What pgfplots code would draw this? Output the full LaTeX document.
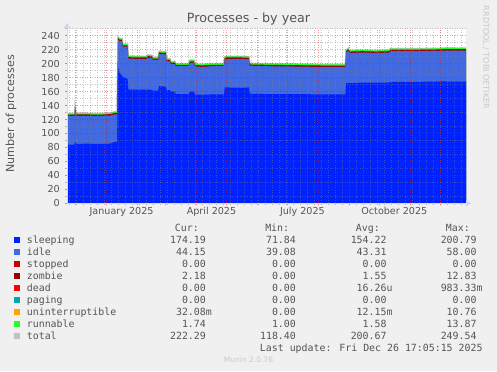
\documentclass[border=0pt]{standalone}
\usepackage{pgfplots}
\pgfplotsset{compat=1.18}
\usepackage{pgfplotstable}
\usepackage{fontspec}
\setmainfont{DejaVu Sans}
\newfontfamily\mono{DejaVu Sans Mono}
\usetikzlibrary{arrows.meta}
\definecolor{bg}{HTML}{F0F0F0}
\definecolor{txt}{HTML}{555555}
\definecolor{faint}{HTML}{C8C8C8}
\definecolor{axisblue}{HTML}{CFD6F8}
\definecolor{csleep}{HTML}{0022FF}
\definecolor{cidle}{HTML}{4169E1}
\definecolor{cstop}{HTML}{CC0000}
\definecolor{czomb}{HTML}{990000}
\definecolor{cdead}{HTML}{FF0000}
\definecolor{cpag}{HTML}{00AAAA}
\definecolor{cunint}{HTML}{FFA500}
\definecolor{crun}{HTML}{22FF22}
\definecolor{ctot}{HTML}{C0C0C0}

% d = days since 1 Jan 2025; S sleeping, I idle, Z zombie, R runnable
\pgfplotstableread{
d S I Z R
-39.6 84 40.9 2 1.6
-32.0 84 40.9 2 1.6
-31.5 88 47.4 2 1.6
-30.5 85 40.4 2 1.6
-20 85.5 39.9 2 1.6
-10 85 39.9 2 1.6
0 85 40.4 2 1.6
5 86 39.9 2 1.6
8 88 39.4 2 1.6
10.5 88 39.4 2 1.6
11.5 195 39.4 2 1.6
13 187 45.4 2 1.6
15.5 182 50.4 2 1.6
16.2 181 43.4 2 1.6
21 178 46.4 2 1.6
21.8 163 44.4 2 1.6
30 163 43.9 2 1.6
40.5 163 43.9 2 1.6
41.2 163 45.9 2 1.6
45.5 162.5 45.9 2 1.6
46.2 161.5 43.9 2 1.6
51.8 161.5 43.9 2 1.6
52.5 168 45.9 2 1.6
59.3 167 46.4 2 1.6
60 162 41.4 2 1.6
63.5 162 41.4 2 1.6
64.2 160 39.4 2 1.6
68.5 160 39.4 2 1.6
69.2 156.5 39.9 2 1.6
82.5 156.5 39.9 2 1.6
83.2 160 41.4 2 1.6
87.5 160 41.4 2 1.6
88.2 156 40.4 2 1.6
95 155.5 39.9 2 1.6
105 156 40.4 2 1.6
117.5 156 40.4 2 1.6
118.2 166 39.9 2 1.6
120 166 40.9 2 1.6
135 165.5 41.4 2 1.6
142.5 166 40.4 2 1.6
143.2 157 39.9 2 1.6
161 156.5 39.9 2 1.6
190 156.5 39.4 2 1.6
215 156 39.4 2 1.6
239 156 39.4 2 1.6
239.7 172 44.0 2 1.6
242 172 46.4 2 1.6
243 172 43.4 2 1.6
256 173 42.9 2 1.6
270 173 42.4 2 1.6
283 173 42.9 2 1.6
283.7 174 43.9 2 1.6
310 174 43.9 2 1.6
333 174.5 43.9 2 1.6
340 174.5 44.4 2 1.6
359.7 174.2 44.5 2 1.6
}\procdata

\newcommand\lgfont{\mono\fontsize{9.9bp}{12bp}\selectfont}
\newcommand\p[1]{#1\phantom{0}}
\newcommand\lrow[7]{%
  \fill[#2] (14,{371-#1}) rectangle (20,{377-#1});
  \node[anchor=base west,inner sep=0pt,text=txt,font=\lgfont] at (26.7,{371-#1}) {#3};
  \node[anchor=base east,inner sep=0pt,text=txt,font=\lgfont] at (212,{371-#1}) {#4};
  \node[anchor=base east,inner sep=0pt,text=txt,font=\lgfont] at (302,{371-#1}) {#5};
  \node[anchor=base east,inner sep=0pt,text=txt,font=\lgfont] at (392.7,{371-#1}) {#6};
  \node[anchor=base east,inner sep=0pt,text=txt,font=\lgfont] at (482.7,{371-#1}) {#7};
}

\begin{document}
\begin{tikzpicture}[x=1bp,y=1bp]
\fill[bg] (0,0) rectangle (497,371);
\begin{axis}[
  at={(67bp,167.7bp)}, anchor=south west,
  scale only axis, width=399bp, height=174.5bp,
  xmin=-39.6, xmax=359.7, ymin=0, ymax=250,
  axis background/.style={fill=white},
  axis on top,
  axis x line=bottom, axis y line=left,
  axis line style={draw=axisblue, line width=1bp},
  x axis line style={-{Triangle[length=5bp,width=6bp]}, shorten >=-5bp},
  y axis line style={-{Triangle[length=5bp,width=6bp]}, shorten >=-6bp},
  xtick={-31,0,31,59,90,120,151,181,212,243,273,304,334},
  xticklabels={},
  minor xtick={-37,-30,...,355},
  extra x ticks={15,105,196,288},
  extra x tick labels={January 2025,April 2025,July 2025,October 2025},
  extra x tick style={grid=none, major tick length=0pt},
  ytick={0,20,...,240},
  minor ytick={10,30,...,250},
  grid=both,
  major grid style={draw=red, opacity=0.4, line width=0.6bp, dash pattern=on 1bp off 1.5bp},
  minor grid style={draw=gray, opacity=0.45, line width=0.6bp, dash pattern=on 1bp off 1.5bp},
  tick align=outside,
  major tick length=2bp, minor tick length=2bp,
  major tick style={draw=red, opacity=0.5, line width=0.6bp},
  minor tick style={draw=gray, opacity=0.5, line width=0.6bp},
  /pgf/number format/assume math mode=true,
  tick label style={font=\fontsize{9.6bp}{11bp}\selectfont, text=txt},
  yticklabel style={anchor=east, inner sep=0pt, xshift=-5bp},
  xticklabel style={anchor=north, inner sep=0pt, yshift=-4bp},
]
\addplot[draw=ctot, line width=1.6bp] table[x=d, y expr=\thisrow{S}+\thisrow{I}+\thisrow{Z}+\thisrow{R}] {\procdata};
\addplot[fill=crun, draw=none] table[x=d, y expr=\thisrow{S}+\thisrow{I}+\thisrow{Z}+\thisrow{R}] {\procdata} \closedcycle;
\addplot[fill=czomb, draw=none] table[x=d, y expr=\thisrow{S}+\thisrow{I}+\thisrow{Z}] {\procdata} \closedcycle;
\addplot[fill=cidle, draw=none] table[x=d, y expr=\thisrow{S}+\thisrow{I}] {\procdata} \closedcycle;
\addplot[fill=csleep, draw=none] table[x=d, y=S] {\procdata} \closedcycle;
\end{axis}
% title and labels
\node[anchor=base, inner sep=0pt, text=txt, font=\fontsize{12.7bp}{14bp}\selectfont] at (248.5,{371-22.5}) {Processes - by year};
\node[rotate=90, inner sep=0pt, text=txt, font=\fontsize{11.1bp}{13bp}\selectfont] at (11,{371-114}) {Number of processes};
\node[rotate=-90, inner sep=0pt, text=faint, font=\fontsize{8bp}{9bp}\selectfont] at (486,{371-57.5}) {RRDTOOL / TOBI OETIKER};
% legend
\node[anchor=base east,inner sep=0pt,text=txt,font=\lgfont] at (199,{371-231}) {Cur:};
\node[anchor=base east,inner sep=0pt,text=txt,font=\lgfont] at (289.3,{371-231}) {Min:};
\node[anchor=base east,inner sep=0pt,text=txt,font=\lgfont] at (380,{371-231}) {Avg:};
\node[anchor=base east,inner sep=0pt,text=txt,font=\lgfont] at (470,{371-231}) {Max:};
\lrow{243}{csleep}{sleeping}{\p{174.19}}{\p{71.84}}{\p{154.22}}{\p{200.79}}
\lrow{255}{cidle}{idle}{\p{44.15}}{\p{39.08}}{\p{43.31}}{\p{58.00}}
\lrow{267}{cstop}{stopped}{\p{0.00}}{\p{0.00}}{\p{0.00}}{\p{0.00}}
\lrow{279}{czomb}{zombie}{\p{2.18}}{\p{0.00}}{\p{1.55}}{\p{12.83}}
\lrow{291}{cdead}{dead}{\p{0.00}}{\p{0.00}}{16.26u}{983.33m}
\lrow{303}{cpag}{paging}{\p{0.00}}{\p{0.00}}{\p{0.00}}{\p{0.00}}
\lrow{315}{cunint}{uninterruptible}{32.08m}{\p{0.00}}{12.15m}{\p{10.76}}
\lrow{327}{crun}{runnable}{\p{1.74}}{\p{1.00}}{\p{1.58}}{\p{13.87}}
\lrow{339}{ctot}{total}{\p{222.29}}{\p{118.40}}{\p{200.67}}{\p{249.54}}
\node[anchor=base east,inner sep=0pt,text=txt,font=\lgfont] at (482.7,{371-351}) {Last update: Fri Dec 26 17:05:15 2025};
\node[anchor=base,inner sep=0pt,text=faint,font=\fontsize{7.5bp}{9bp}\selectfont] at (248.5,{371-362.7}) {Munin 2.0.76};
\end{tikzpicture}
\end{document}
